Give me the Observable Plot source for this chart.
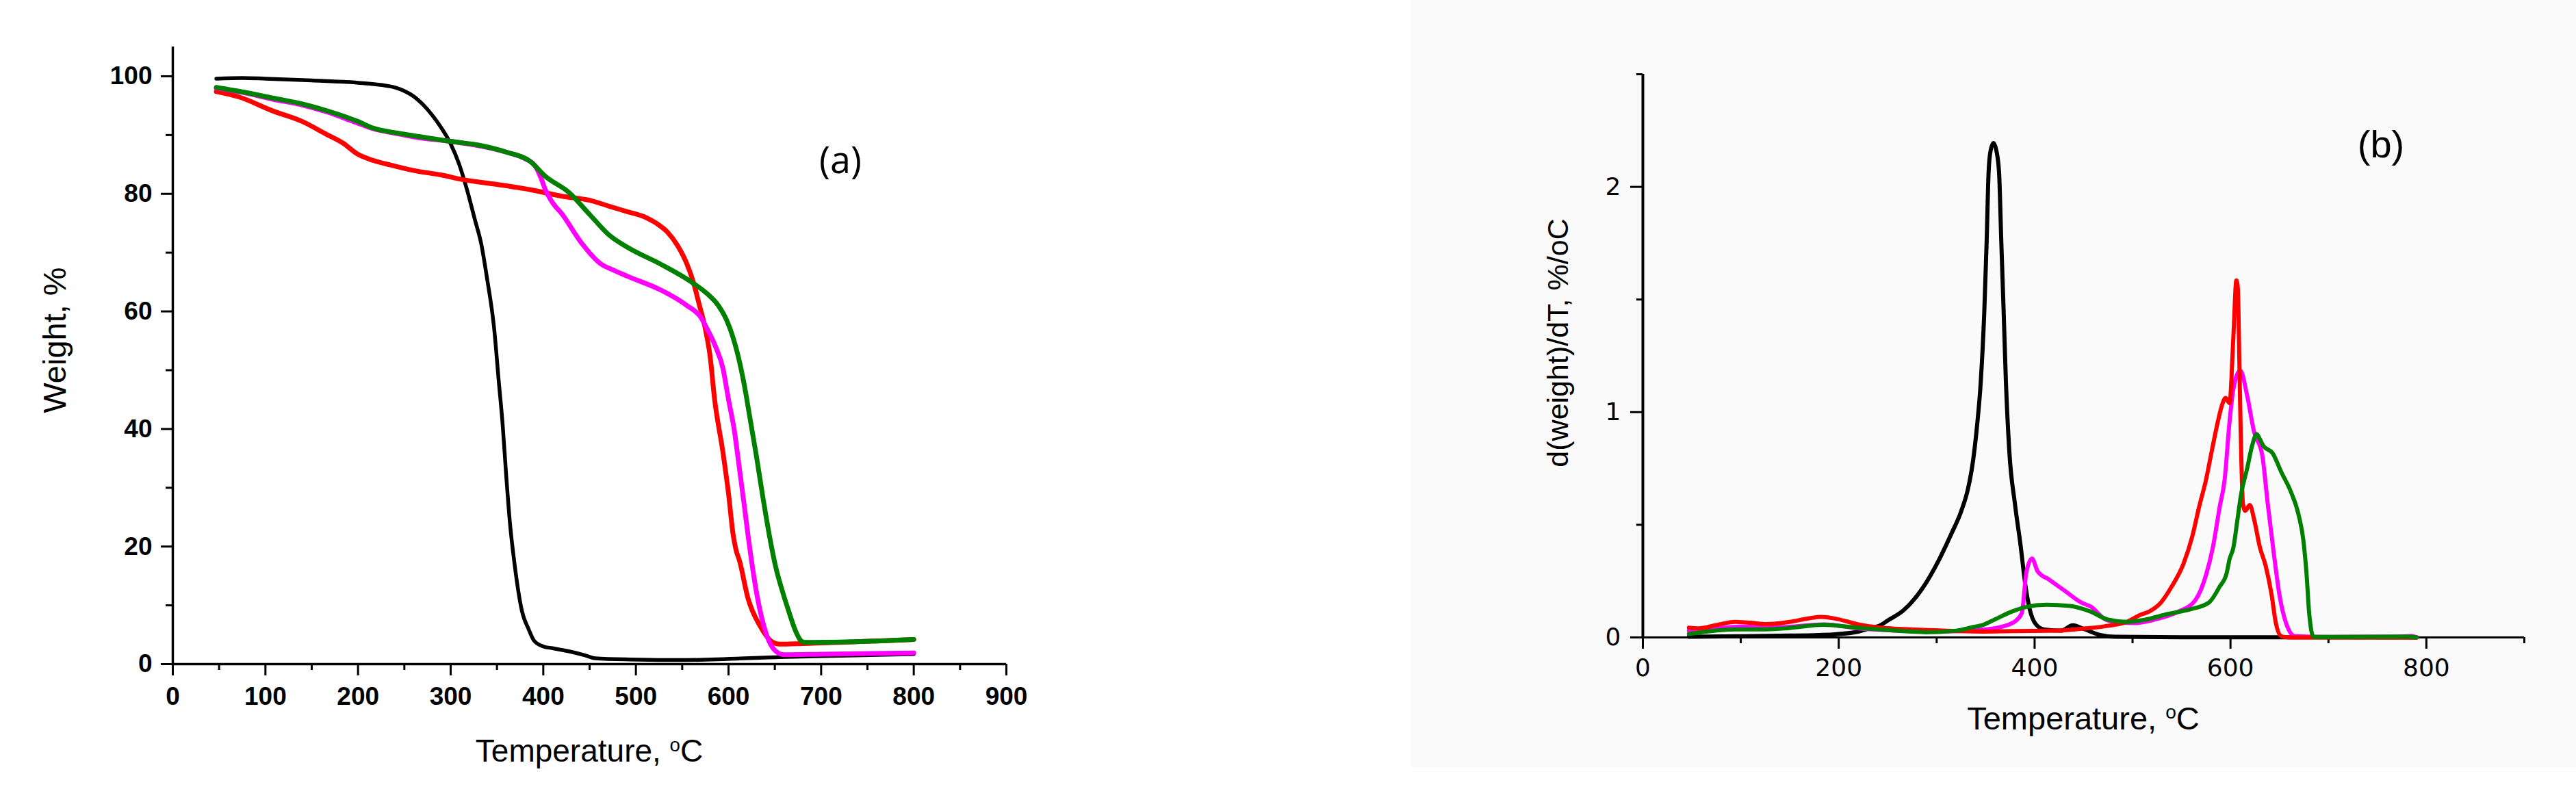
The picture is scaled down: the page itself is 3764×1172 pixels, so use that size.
<!DOCTYPE html>
<html>
<head>
<meta charset="utf-8">
<script src="https://cdn.jsdelivr.net/npm/d3@7"></script>
<script src="https://cdn.jsdelivr.net/npm/@observablehq/plot@0.6"></script>
<style>
  html, body { margin: 0; padding: 0; background: #ffffff; }
  body { position: relative; width: 3764px; height: 1172px; overflow: hidden; }
  #bgB { position: absolute; left: 2061px; top: 0; width: 1703px; height: 1121px; background: #fbfafa; }
  #panelA { position: absolute; left: 0; top: 0; }
  #panelB { position: absolute; left: 2000px; top: 0; }
  .t { position: absolute; white-space: nowrap; line-height: 1; color: #000; transform: translate(-50%, -50%); }
  .rot { transform: translate(-50%, -50%) rotate(-90deg); }
  sup { font-size: 0.6em; vertical-align: 0.55em; line-height: 0; }
</style>
</head>
<body>
<div id="bgB"></div>
<div id="panelA"></div>
<div id="panelB"></div>

<div class="t" style="left:861px;top:1097px;font-family:'Liberation Sans',Arial,sans-serif;font-size:46px;">Temperature, <sup>o</sup>C</div>
<div class="t rot" style="left:79px;top:497px;font-family:'Liberation Sans',Arial,sans-serif;font-size:47px;">Weight, %</div>
<div class="t" style="left:1228px;top:232px;font-family:'Open Sans','Noto Sans',sans-serif;font-size:54px;">(a)</div>

<div class="t" style="left:3044px;top:1049px;font-family:'Liberation Sans',Arial,sans-serif;font-size:47px;">Temperature, <sup>o</sup>C</div>
<div class="t rot" style="left:2276px;top:501px;font-family:'Liberation Sans',Arial,sans-serif;font-size:43px;">d(weight)/dT, %/oC</div>
<div class="t" style="left:3479px;top:211px;font-family:'Liberation Sans',Arial,sans-serif;font-size:56px;">(b)</div>

<script>
// ---------- Panel (a): TGA weight (%) vs temperature (°C) ----------
const tgaBlack = [[47,99.6],[75,99.7],[100,99.6],[150,99.3],[200,98.9],[226,98.5],[240,98.1],[250,97.5],[260,96.6],[270,95.2],[280,93.4],[290,91.2],[300,88.5],[309,85.1],[318,80.5],[326,75.7],[333,71.5],[339,65.9],[347,57],[352,48],[356,41],[360,32],[364,24],[369,17],[377,9],[384,6],[390,4.0],[400,3.0],[410,2.7],[430,2.1],[445,1.5],[456,1.0],[494,0.8],[555,0.7],[654,1.2],[800,1.7]];
const tgaRed = [[47,97.4],[71,96.5],[108,94.1],[140,92.3],[165,90.2],[185,88.5],[199,86.8],[216,85.7],[235,84.9],[259,84.0],[290,83.2],[314,82.4],[350,81.6],[386,80.7],[420,79.6],[450,78.9],[471,77.9],[490,77.0],[509,76.1],[522,75.0],[534,73.5],[545,71.2],[555,68.1],[562,65.0],[568,61.4],[575,57],[580,52.5],[585,45],[594,36],[600,29],[605,22],[608,19.5],[612,17.5],[621,11.2],[634,6.5],[647,3.8],[655,3.4],[680,3.5],[800,4.2]];
const tgaMagenta = [[47,98.0],[80,97.1],[108,96.1],[140,95.1],[165,94.0],[200,92.0],[216,91.1],[240,90.3],[260,89.7],[301,88.9],[330,88.2],[360,87.1],[380,86.0],[391,84.8],[398,82.5],[402,80.8],[410,78.5],[420,76.6],[441,71.7],[462,68.1],[476,67.0],[492,65.9],[526,63.7],[555,61.0],[570,59],[577,57],[586,54.0],[594,50.3],[600,45],[606,40],[612,33],[617,27],[621,22],[631,11.5],[641,5],[651,2.2],[660,1.6],[700,1.7],[800,1.9]];
const tgaGreen = [[47,98.1],[80,97.2],[108,96.3],[140,95.3],[165,94.2],[200,92.3],[216,91.2],[240,90.4],[260,89.9],[301,88.9],[330,88.3],[360,87.1],[386,85.5],[402,83],[428,80.2],[450,76.5],[471,73],[492,70.8],[526,68.1],[560,65.0],[577,63],[589,61],[598,58.5],[605,55.5],[611,52],[617,47.5],[623,42],[630,35.5],[637,28.5],[644,22],[651,16.5],[658,12.5],[665,9],[672,5.8],[678,4.0],[682,3.7],[733,3.8],[800,4.2]];

// ---------- Panel (b): DTG d(weight)/dT (%/°C) vs temperature (°C) ----------
const dtgBlack = [[47,0.003],[100,0.005],[150,0.008],[180,0.011],[196,0.014],[219,0.025],[231,0.04],[243,0.055],[250,0.075],[266,0.12],[285,0.215],[303,0.35],[315,0.46],[325,0.56],[332,0.66],[337,0.78],[341,0.93],[345,1.134],[348.6,1.444],[351,1.754],[353,2.064],[355,2.16],[358,2.195],[361,2.16],[363.7,2.064],[366,1.754],[368.4,1.444],[370.7,1.134],[374.2,0.824],[380,0.59],[385.8,0.404],[390.5,0.234],[395,0.125],[401,0.06],[410,0.035],[427,0.03],[439,0.054],[450,0.038],[466,0.012],[482,0.003],[550,0.001],[790,0]];
const dtgRed = [[47,0.043],[57,0.04],[75,0.055],[94,0.069],[110,0.065],[126,0.059],[150,0.069],[170,0.085],[182,0.091],[196,0.084],[219,0.059],[243,0.043],[289,0.033],[347,0.026],[377,0.028],[424,0.03],[447,0.038],[471,0.049],[494,0.069],[508,0.10],[517,0.115],[529,0.155],[540,0.226],[552,0.327],[561,0.449],[568,0.58],[575,0.70],[581,0.83],[587,0.956],[592,1.04],[595,1.063],[599,1.04],[603,1.34],[606,1.585],[607.5,1.55],[609,1.234],[610.4,0.915],[612.7,0.594],[615,0.562],[619.7,0.588],[624.3,0.52],[630,0.40],[636,0.316],[642,0.188],[646,0.071],[652,0.005],[660,0],[790,0]];
const dtgMagenta = [[47,0.03],[75,0.04],[100,0.048],[140,0.045],[185,0.058],[220,0.04],[260,0.03],[300,0.025],[349,0.035],[373,0.056],[381,0.075],[387,0.109],[391.6,0.29],[397.4,0.35],[403,0.294],[415,0.256],[431,0.206],[447.5,0.155],[458,0.135],[470.7,0.084],[482,0.069],[503,0.064],[527,0.084],[547,0.115],[564,0.165],[575,0.277],[582,0.40],[589,0.58],[594,0.70],[599,0.956],[603,1.105],[610,1.185],[617,1.073],[624,0.914],[632.5,0.807],[638,0.594],[644,0.38],[650,0.188],[657,0.06],[666,0.005],[700,0.002],[770,0.003],[785,0.006],[790,0]];
const dtgGreen = [[47,0.015],[94,0.036],[126,0.036],[150,0.042],[184,0.056],[219,0.043],[266,0.028],[289,0.023],[320,0.03],[336,0.045],[347,0.055],[359,0.079],[377,0.115],[391,0.135],[412,0.145],[436,0.14],[457,0.115],[475,0.079],[494,0.069],[513,0.079],[536,0.104],[559,0.125],[578,0.155],[589,0.226],[596,0.284],[599,0.347],[603,0.40],[607,0.52],[611,0.64],[617,0.75],[622,0.85],[626.7,0.903],[630,0.88],[633.6,0.85],[643,0.818],[652,0.733],[661.6,0.647],[669.7,0.541],[674.3,0.434],[677.8,0.273],[680.2,0.114],[684.8,0.003],[700,0.002],[780,0.004],[790,0]];

// ---------- ticks ----------
const tgaXMajor = [0,100,200,300,400,500,600,700,800,900];
const tgaXMinor = [50,150,250,350,450,550,650,750,850];
const tgaYMajor = [0,20,40,60,80,100];
const tgaYMinor = [10,30,50,70,90];
const dtgXMajor = [0,200,400,600,800];
const dtgXMinor = [100,300,500,700,900];
const dtgYMajor = [0,1,2];
const dtgYMinor = [0.5,1.5,2.5];

const colors = {black:"#000000", red:"#ff0000", magenta:"#ff00ff", green:"#008000"};
const X = d => d[0], Y = d => d[1];
const line = (data, color, w) => Plot.line(data, {x: X, y: Y, stroke: color, strokeWidth: w, curve: "monotone-x", strokeLinecap: "round", strokeLinejoin: "round"});
const empty = () => "";
const plain = d => String(d);

const plotA = Plot.plot({
  width: 1560, height: 1172,
  marginLeft: 252, marginRight: 90, marginTop: 68, marginBottom: 202,
  x: {domain: [0, 900], label: null},
  y: {domain: [0, 105], label: null},
  style: {background: "transparent", color: "#000", fontFamily: "'Liberation Sans', Arial, sans-serif", fontSize: "37px", fontWeight: "bold", overflow: "visible"},
  marks: [
    Plot.axisX(tgaXMajor, {tickSize: 17, tickPadding: 16, strokeWidth: 3, label: null, fontSize: 37, fontWeight: "bold", tickFormat: plain}),
    Plot.axisX(tgaXMinor, {tickSize: 9, strokeWidth: 3, label: null, tickFormat: empty}),
    Plot.axisY(tgaYMajor, {tickSize: 17, tickPadding: 13, strokeWidth: 3, label: null, fontSize: 37, fontWeight: "bold", tickFormat: plain}),
    Plot.axisY(tgaYMinor, {tickSize: 10, strokeWidth: 3, label: null, tickFormat: empty}),
    Plot.ruleY([0], {strokeWidth: 3.5}),
    Plot.ruleX([0], {strokeWidth: 3.5}),
    line(tgaBlack, colors.black, 5.5),
    line(tgaRed, colors.red, 7),
    line(tgaMagenta, colors.magenta, 7),
    line(tgaGreen, colors.green, 7)
  ]
});
document.getElementById("panelA").appendChild(plotA);

const plotB = Plot.plot({
  width: 1764, height: 1172,
  marginLeft: 400, marginRight: 76, marginTop: 108, marginBottom: 241,
  x: {domain: [0, 900], label: null},
  y: {domain: [0, 2.5], label: null},
  style: {background: "transparent", color: "#000", fontFamily: "'DejaVu Sans', sans-serif", fontSize: "36px", overflow: "visible"},
  marks: [
    Plot.axisX(dtgXMajor, {tickSize: 17, tickPadding: 14, strokeWidth: 3, label: null, fontSize: 36, tickFormat: plain}),
    Plot.axisX(dtgXMinor, {tickSize: 9, strokeWidth: 3, label: null, tickFormat: empty}),
    Plot.axisY(dtgYMajor, {tickSize: 18, tickPadding: 14, strokeWidth: 3, label: null, fontSize: 36, tickFormat: plain}),
    Plot.axisY(dtgYMinor, {tickSize: 9, strokeWidth: 3, label: null, tickFormat: empty}),
    Plot.ruleY([0], {strokeWidth: 3}),
    Plot.ruleX([0], {strokeWidth: 4}),
    line(dtgBlack, colors.black, 6),
    line(dtgMagenta, colors.magenta, 6),
    line(dtgRed, colors.red, 6),
    line(dtgGreen, colors.green, 6)
  ]
});
document.getElementById("panelB").appendChild(plotB);
</script>
</body>
</html>
